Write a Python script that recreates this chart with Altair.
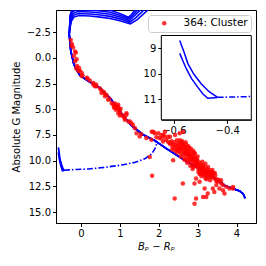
import altair as alt
import pandas as pd

# ---------------- data ----------------
# main-sequence part shared by the isochrones (colour, abs. G mag)
ms_x = [4.22, 4.17, 4.08, 3.90, 3.70, 3.57, 3.30, 3.00, 2.60, 2.19, 1.90, 1.59, 1.30, 1.00, 0.75, 0.49, 0.19, -0.03, -0.18, -0.26, -0.30]
ms_y = [13.65, 13.2, 12.95, 12.7, 12.4, 12.04, 11.4, 10.7, 9.8, 8.8, 8.05, 7.45, 6.6, 5.2, 3.9, 2.93, 2.27, 1.69, 0.64, -0.66, -2.3]

# giant branches of the five isochrones
g1_x = [-0.28, -0.24, -0.18, -0.05, 0.23, 0.50, 0.75, 1.00, 1.27, 1.45, 1.72, 1.80]
g1_y = [-2.95, -3.60, -3.95, -4.10, -4.05, -3.95, -3.82, -3.60, -3.28, -3.70, -4.64, -5.0]
g2_x = [-0.28, -0.25, -0.19, -0.07, 0.23, 0.50, 0.75, 1.00, 1.25, 1.40, 1.62, 1.70]
g2_y = [-2.95, -3.75, -4.12, -4.30, -4.25, -4.15, -4.02, -3.78, -3.45, -3.85, -4.64, -5.0]
g3_x = [-0.29, -0.26, -0.20, -0.09, 0.23, 0.50, 0.75, 1.00, 1.24, 1.35, 1.53, 1.60]
g3_y = [-3.00, -3.90, -4.30, -4.50, -4.45, -4.35, -4.22, -3.95, -3.62, -4.00, -4.64, -5.0]
g4_x = [-0.29, -0.27, -0.22, -0.11, 0.23, 0.50, 0.75, 1.00, 1.23, 1.32, 1.46, 1.52]
g4_y = [-3.00, -4.00, -4.45, -4.68, -4.63, -4.55, -4.42, -4.12, -3.78, -4.10, -4.64, -5.0]
g5_x = [-0.29, -0.28, -0.24, -0.13, 0.23, 0.50, 0.75, 1.00, 1.22, 1.30, 1.39, 1.45]
g5_y = [-3.00, -4.10, -4.60, -4.85, -4.82, -4.75, -4.62, -4.30, -3.93, -4.20, -4.64, -5.0]
giants = [(g1_x, g1_y), (g2_x, g2_y), (g3_x, g3_y), (g4_x, g4_y), (g5_x, g5_y)]

# white-dwarf cooling part (solid curves) and dash-dot continuation
wd1_x = [-0.578, -0.562, -0.547, -0.525, -0.497, -0.468, -0.436]
wd1_y = [8.70, 9.15, 9.61, 10.02, 10.40, 10.70, 10.92]
wd2_x = [-0.578, -0.566, -0.553, -0.533, -0.510, -0.492, -0.473, -0.436]
wd2_y = [9.20, 9.50, 9.81, 10.20, 10.53, 10.78, 10.96, 10.93]
dd_x = [-0.436, -0.31, 0.20, 0.60, 1.05, 1.40, 1.64, 1.82, 1.90, 1.95, 1.92]
dd_y = [10.92, 10.89, 10.80, 10.65, 10.42, 10.15, 9.82, 9.35, 8.85, 8.35, 8.05]

# cluster members
pts_x = [-0.26, -0.23, -0.24, -0.20, -0.15, -0.13, -0.18, -0.11, -0.15, -0.10, -0.05, -0.12, -0.03, -0.06, 0.02, 0.04, 0.02, 0.15, 0.17, 0.23, 0.32, 0.39, 0.32, 0.40, 0.36,
         0.49, 0.53, 0.59, 0.53, 0.62, 0.66, 0.62, 0.73, 0.70, 0.79, 0.83, 0.87, 0.96, 0.87, 0.92, 0.92, 0.90, 0.96, 1.00, 0.96, 1.05, 1.09, 1.17, 1.17, 1.00, 1.13, 1.13, 1.22, 1.26, 1.30, 1.34, 1.39, 1.43, 0.88, 0.94, 0.98, 1.02, 0.85,
         1.51, 1.55, 1.68, 1.81, 1.82, 1.86, 1.90, 1.94, 1.99, 2.02, 2.07, 2.07, 2.12, 2.15, 2.16, 2.19, 2.11, 2.24, 2.24, 2.28, 2.29, 2.37, 2.42, 2.37, 1.77, 1.83,
         2.45, 2.54, 2.58, 2.62, 2.63, 2.54, 2.67, 2.71, 2.75, 2.79, 2.84, 2.88, 2.92, 2.96, 2.50, 2.55, 2.60, 2.65, 2.70, 2.72, 2.78, 2.80, 2.85, 2.90, 2.95, 2.98, 2.46, 2.52, 2.58, 2.64, 2.68, 2.74, 2.80, 2.86, 2.90, 2.70, 2.76, 2.82, 2.88, 2.93,
         3.01, 3.05, 3.09, 3.14, 3.18, 3.22, 3.26, 3.31, 3.35, 3.39, 3.43, 3.00, 3.05, 3.10, 3.15, 3.20, 3.02, 3.08, 3.12, 3.18, 3.25, 3.30, 3.35, 3.40, 3.45, 3.05, 3.10, 3.20, 3.28,
         3.52, 3.61, 3.65, 3.74, 3.82, 3.91, 3.91, 3.56, 3.48, 3.43, 3.39, 3.65, 3.69, 3.50, 3.55, 3.60,
         2.62, 2.41, 2.96, 2.92, 3.14, 3.22, 3.26, 3.18, 2.92, 2.96, 3.05,
         2.30, 2.33, 2.36, 2.40, 2.43, 2.47, 2.50, 2.53, 2.56, 2.59, 2.62, 2.65, 2.68, 2.71, 2.74, 2.77, 2.80, 2.83, 2.86, 2.89, 2.92, 2.95, 2.98, 3.01, 3.04, 3.07, 3.10, 3.13, 3.16, 3.19,
         3.22, 3.25, 3.28, 3.31, 3.34, 3.37, 2.35, 2.42, 2.48, 2.57, 2.66, 2.73, 2.81, 2.87, 2.94, 3.02, 3.09, 3.16, 3.23, 3.32, 2.60, 2.69, 2.78, 2.91, 3.00, 3.12, 3.27, 3.38, 3.44, 3.48]
pts_y = [-1.72, -1.35, -1.16, -0.99, -0.60, -0.50, -0.18, 0.15, 0.35, 0.80, 0.97, 1.05, 1.23, 1.29, 1.46, 1.69, 1.78, 1.95, 2.01, 2.21, 2.44, 2.60, 2.60, 2.76, 2.76,
         2.99, 3.19, 3.32, 3.42, 3.52, 3.65, 3.75, 3.97, 4.07, 4.40, 4.56, 4.63, 4.56, 4.73, 4.82, 4.89, 5.05, 4.89, 5.22, 5.38, 5.54, 5.71, 5.38, 5.54, 5.61, 6.03, 5.87, 6.20, 6.20, 6.36, 6.52, 6.85, 7.34, 4.45, 4.70, 5.00, 4.95, 4.85,
         7.64, 7.40, 7.80, 7.96, 7.18, 7.18, 7.34, 7.73, 7.34, 7.80, 7.50, 7.83, 7.50, 7.64, 7.18, 7.96, 8.13, 7.67, 8.16, 8.29, 7.67, 8.45, 7.50, 9.95, 9.63, 11.46,
         8.62, 7.34, 8.78, 8.45, 7.18, 9.11, 9.27, 8.94, 9.43, 9.76, 9.60, 9.92, 10.25, 10.09, 8.30, 8.00, 8.10, 8.60, 8.40, 9.10, 9.00, 9.30, 9.20, 9.50, 9.70, 9.90, 8.90, 8.70, 9.30, 9.50, 9.80, 9.90, 10.10, 10.40, 10.60, 8.70, 8.60, 8.80, 9.00, 9.30,
         10.41, 10.58, 10.74, 10.90, 11.07, 10.74, 11.23, 11.39, 11.07, 11.56, 11.72, 10.00, 10.20, 10.40, 10.50, 10.30, 10.80, 11.00, 11.20, 11.40, 11.00, 10.90, 11.30, 11.20, 11.40, 11.30, 11.50, 11.70, 11.60,
         12.05, 12.21, 12.37, 12.54, 12.70, 12.70, 12.54, 12.70, 12.37, 13.03, 12.70, 12.86, 13.19, 11.80, 11.90, 11.90,
         12.21, 13.68, 13.68, 14.17, 13.52, 13.52, 13.19, 12.70, 12.21, 11.72, 12.05,
         8.40, 8.10, 8.70, 8.20, 8.50, 8.00, 8.90, 8.40, 8.80, 8.20, 9.00, 8.90, 9.20, 9.40, 9.10, 9.60, 9.45, 9.90, 9.70, 10.00, 9.85, 10.30, 10.20, 10.60, 10.40, 10.70, 10.90, 10.60, 10.80, 11.20,
         11.00, 11.50, 11.10, 11.30, 11.60, 11.45, 8.90, 9.00, 9.20, 9.60, 9.90, 10.20, 10.50, 10.80, 10.50, 11.10, 11.30, 11.40, 11.80, 11.90, 8.50, 8.20, 8.75, 9.20, 9.60, 10.10, 10.60, 10.90, 11.20, 12.00]
cluster_label = "364: Cluster"

# axes
main_x_domain = [-0.64, 4.5]
main_y_domain = [-4.64, 16.05]
main_x_ticks = [0, 1, 2, 3, 4]
main_y_ticks = [-2.5, 0.0, 2.5, 5.0, 7.5, 10.0, 12.5, 15.0]
inset_x_domain = [-0.647, -0.31]
inset_y_domain = [8.5, 11.8]
inset_x_ticks = [-0.6, -0.4]
inset_y_ticks = [9, 10, 11]

# ---------------- tables ----------------
rows = []
for k, (gx, gy) in enumerate(giants):
    xs = ms_x + gx
    ys = ms_y + gy
    for i, (a, b) in enumerate(zip(xs, ys)):
        rows.append({"iso": k, "order": i, "x": a, "y": b})
iso_df = pd.DataFrame(rows)

wd_rows = []
for k, (cx, cy) in enumerate([(wd1_x, wd1_y), (wd2_x, wd2_y)]):
    for i, (a, b) in enumerate(zip(cx, cy)):
        wd_rows.append({"c": k, "order": i, "x": a, "y": b})
wd_df = pd.DataFrame(wd_rows)
dd_df = pd.DataFrame({"x": dd_x, "y": dd_y, "order": list(range(len(dd_x)))})
pts_df = pd.DataFrame({"x": pts_x, "y": pts_y, "label": cluster_label})
frame_df = pd.DataFrame({"x": [inset_x_domain[0]], "x2": [inset_x_domain[1]],
                         "y": [inset_y_domain[0]], "y2": [inset_y_domain[1]]})

W, H = 200, 213
BLUE = "#0000ff"

mxs = alt.Scale(domain=main_x_domain, nice=False, zero=False)
mys = alt.Scale(domain=main_y_domain, nice=False, zero=False, reverse=True)
mxa = alt.Axis(values=main_x_ticks, format="d", title="Bₚ − Rₚ", titleFontStyle="italic",
               orient="bottom", titlePadding=3)
mya = alt.Axis(values=main_y_ticks, format=".1f", title="Absolute G Magnitude",
               orient="left", titlePadding=5)

X = alt.X("x:Q", scale=mxs, axis=mxa)
Y = alt.Y("y:Q", scale=mys, axis=mya)

iso_lines = alt.Chart(iso_df).mark_line(color=BLUE, strokeWidth=1.6, clip=True).encode(
    x=X, y=Y, detail="iso:N", order="order:Q")
wd_lines = alt.Chart(wd_df).mark_line(color=BLUE, strokeWidth=1.8, clip=True).encode(
    x=X, y=Y, detail="c:N", order="order:Q")
dd_line = alt.Chart(dd_df).mark_line(color=BLUE, strokeWidth=1.6, strokeDash=[6, 2, 1.5, 2], clip=True).encode(
    x=X, y=Y, order="order:Q")
points = alt.Chart(pts_df).mark_circle(size=20, opacity=0.8).encode(
    x=X, y=Y,
    color=alt.Color("label:N", scale=alt.Scale(domain=[cluster_label], range=["#ff0000"]),
                    legend=alt.Legend(title=None, orient="top-right", offset=5,
                                      fillColor="white", strokeColor="#cccccc", cornerRadius=3,
                                      padding=3, symbolType="circle", symbolSize=20,
                                      symbolOpacity=0.8, symbolOffset=8, labelOffset=14,
                                      labelFontSize=10.5, labelFont="DejaVu Sans")))
main = alt.layer(iso_lines, wd_lines, dd_line, points)

# inset
ixs = alt.Scale(domain=inset_x_domain, range=[105.3, 195.3], nice=False, zero=False)
iys = alt.Scale(domain=inset_y_domain, range=[25.5, 109.8], nice=False, zero=False)
ixa = alt.Axis(values=inset_x_ticks, format=".1f", title=None, orient="bottom", offset=-(H - 109.8))
iya = alt.Axis(values=inset_y_ticks, format="d", title=None, orient="left", offset=-105.3)
IX = alt.X("x:Q", scale=ixs, axis=ixa)
IY = alt.Y("y:Q", scale=iys, axis=iya)

frame = alt.Chart(frame_df).mark_rect(fill="white", stroke="black", strokeWidth=1).encode(
    x=IX, x2="x2:Q", y=IY, y2="y2:Q")
inset_wd = alt.Chart(wd_df).mark_line(color=BLUE, strokeWidth=1.5).encode(
    x=IX, y=IY, detail="c:N", order="order:Q")
inset_dd = alt.Chart(dd_df).transform_filter(
    alt.datum.x <= inset_x_domain[1]).mark_line(color=BLUE, strokeWidth=1.5, strokeDash=[6, 2, 1.5, 2]).encode(
    x=IX, y=IY, order="order:Q")
inset = alt.layer(frame, inset_wd, inset_dd)

chart = alt.layer(main, inset).resolve_scale(x="independent", y="independent").properties(
    width=W, height=H,
    autosize=alt.AutoSizeParams(type="none"),
    padding={"left": 48, "top": 2, "right": 2, "bottom": 40},
).configure_view(stroke="black", strokeWidth=1).configure_axis(
    grid=False, domainColor="black", tickColor="black", tickSize=3.5, labelColor="black",
    titleColor="black", labelFont="DejaVu Sans", titleFont="DejaVu Sans", labelFontSize=10,
    titleFontSize=10, titleFontWeight="normal", labelPadding=2, domainWidth=1, tickWidth=1,
    labelFlush=False
)

chart.save("out.html", embed_options={"renderer": "svg", "actions": False})
